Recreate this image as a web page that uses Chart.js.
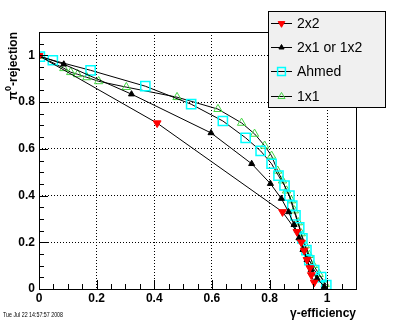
<!DOCTYPE html>
<html lang="en">
<head>
<meta charset="UTF-8">
<title>pi0 rejection vs gamma efficiency</title>
<script src="https://cdn.jsdelivr.net/npm/chart.js@4.4.0/dist/chart.umd.min.js"></script>
<style>
  body { margin: 0; background: #fff; }
  canvas { display: block; }
</style>
</head>
<body>
<canvas id="myChart" width="396" height="322"></canvas>
<script>
// data
const x2x2 = [0, 0.41, 0.845, 0.895, 0.91, 0.92, 0.93, 0.94, 0.945, 0.955];
const y2x2 = [0.998, 0.71, 0.33, 0.245, 0.2, 0.165, 0.125, 0.09, 0.06, 0.028];

const x2x1 = [0, 0.086, 0.321, 0.597, 0.738, 0.803, 0.841, 0.866, 0.885, 0.902, 0.916, 0.93, 0.944, 0.965, 0.99];
const y2x1 = [0.998, 0.962, 0.834, 0.668, 0.536, 0.451, 0.387, 0.33, 0.275, 0.218, 0.168, 0.125, 0.083, 0.045, 0.01];

const xAhmed = [0.003, 0.048, 0.179, 0.369, 0.528, 0.638, 0.717, 0.769, 0.807, 0.831, 0.852, 0.869, 0.879, 0.89, 0.903, 0.914, 0.928, 0.938, 0.955, 0.979, 0.997];
const yAhmed = [0.995, 0.979, 0.936, 0.868, 0.791, 0.719, 0.647, 0.591, 0.536, 0.485, 0.443, 0.4, 0.357, 0.315, 0.264, 0.217, 0.166, 0.123, 0.081, 0.051, 0.017];

const x1x1 = [0, 0.086, 0.11, 0.134, 0.166, 0.207, 0.303, 0.479, 0.621, 0.703, 0.748, 0.783, 0.807, 0.828, 0.845, 0.859, 0.876, 0.886, 0.9, 0.91, 0.924, 0.938, 0.952, 0.972, 0.993];
const y1x1 = [0.998, 0.945, 0.928, 0.919, 0.906, 0.889, 0.864, 0.821, 0.77, 0.711, 0.664, 0.613, 0.57, 0.506, 0.464, 0.421, 0.379, 0.336, 0.285, 0.238, 0.187, 0.145, 0.102, 0.064, 0.021];

const xTicks = [0, 0.2, 0.4, 0.6, 0.8, 1.0];
const yTicks = [0, 0.2, 0.4, 0.6, 0.8, 1.0];
const axisMax = 1.1;
const minorStep = 0.05;

const pts = (xs, ys) => xs.map((x, i) => ({ x: x, y: ys[i] }));
const FONT = '"Liberation Sans", Arial, Helvetica, sans-serif';

// ROOT-ish frame, inward ticks, titles, legend, date
const frameStuff = {
    id: 'frameStuff',
    afterDraw(chart) {
        const ctx = chart.ctx;
        const a = chart.chartArea;
        const xs = chart.scales.x, ys = chart.scales.y;
        ctx.save();
        ctx.strokeStyle = '#000';
        ctx.lineWidth = 1;
        ctx.strokeRect(a.left + 0.5, a.top + 0.5, a.right - a.left, a.bottom - a.top);

        ctx.beginPath();
        for (let i = 0; i * minorStep <= axisMax + 1e-9; i++) {
            const v = i * minorStep;
            const len = (i % 4 === 0) ? 9 : 5;
            const px = Math.round(xs.getPixelForValue(v)) + 0.5;
            ctx.moveTo(px, a.bottom);
            ctx.lineTo(px, a.bottom - len);
            const py = Math.round(ys.getPixelForValue(v)) + 0.5;
            ctx.moveTo(a.left, py);
            ctx.lineTo(a.left + len, py);
        }
        ctx.stroke();

        // axis titles
        ctx.fillStyle = '#000';
        ctx.font = 'bold 12px ' + FONT;
        ctx.textAlign = 'right';
        ctx.textBaseline = 'alphabetic';
        ctx.fillText('\u03b3-efficiency', a.right, 317);

        ctx.save();
        ctx.translate(17, a.top);
        ctx.rotate(-Math.PI / 2);
        ctx.textAlign = 'left';
        const rest = '-rejection';
        const wRest = ctx.measureText(rest).width;
        ctx.font = 'bold 9px ' + FONT;
        const wSup = ctx.measureText('0').width;
        ctx.font = 'bold 12px ' + FONT;
        const wPi = ctx.measureText('\u03c0').width;
        let sx = -(wRest + wSup + wPi);
        ctx.fillText('\u03c0', sx, 0);
        sx += wPi;
        ctx.font = 'bold 9px ' + FONT;
        ctx.fillText('0', sx, -6);
        sx += wSup;
        ctx.font = 'bold 12px ' + FONT;
        ctx.fillText(rest, sx, 0);
        ctx.restore();

        // date stamp
        ctx.save();
        ctx.font = '7px ' + FONT;
        ctx.textAlign = 'left';
        const stamp = 'Tue Jul 22 14:57:57 2008';
        const sw = ctx.measureText(stamp).width;
        ctx.translate(3, 317);
        ctx.scale(60 / sw, 1);
        ctx.fillText(stamp, 0, 0);
        ctx.restore();

        // legend
        const lx = 268, ly = 11, lw = 117, lh = 96;
        ctx.fillStyle = '#f0f0f0';
        ctx.fillRect(lx, ly, lw, lh);
        ctx.strokeStyle = '#000';
        ctx.lineWidth = 1;
        ctx.strokeRect(lx + 0.5, ly + 0.5, lw, lh);
        const rows = [23, 47, 71, 96];
        chart.data.datasets.forEach((ds, i) => {
            const ry = rows[i] + 0.5;
            ctx.beginPath();
            ctx.strokeStyle = '#000';
            ctx.lineWidth = 1;
            ctx.moveTo(271, ry);
            ctx.lineTo(292, ry);
            ctx.stroke();
            ctx.fillStyle = ds.pointBackgroundColor;
            ctx.strokeStyle = ds.pointBorderColor;
            ctx.lineWidth = ds.pointBorderWidth;
            Chart.helpers.drawPoint(ctx, {
                pointStyle: ds.pointStyle,
                rotation: ds.pointRotation || 0,
                radius: ds.pointRadius * 0.85,
                borderWidth: ds.pointBorderWidth
            }, 281.5, ry);
            ctx.fillStyle = '#000';
            ctx.font = '14px ' + FONT;
            ctx.textAlign = 'left';
            ctx.textBaseline = 'middle';
            ctx.fillText(ds.label, 297, rows[i] + 1);
        });
        ctx.restore();
    }
};

const fmt = v => String(+Number(v).toFixed(1));

const ctx = document.getElementById('myChart').getContext('2d');
const myChart = new Chart(ctx, {
    type: 'scatter',
    data: {
        datasets: [{
            label: '2x2',
            data: pts(x2x2, y2x2),
            showLine: true,
            borderColor: '#000',
            borderWidth: 1,
            pointStyle: 'triangle',
            pointRotation: 180,
            pointRadius: 4.5,
            pointBackgroundColor: '#ff0000',
            pointBorderColor: '#ff0000',
            pointBorderWidth: 1
        }, {
            label: '2x1 or 1x2',
            data: pts(x2x1, y2x1),
            showLine: true,
            borderColor: '#000',
            borderWidth: 1,
            pointStyle: 'triangle',
            pointRadius: 3.5,
            pointBackgroundColor: '#000',
            pointBorderColor: '#000',
            pointBorderWidth: 1
        }, {
            label: 'Ahmed',
            data: pts(xAhmed, yAhmed),
            showLine: true,
            borderColor: '#000',
            borderWidth: 1,
            pointStyle: 'rect',
            pointRadius: 6.5,
            pointBackgroundColor: 'rgba(0,0,0,0)',
            pointBorderColor: '#00ffff',
            pointBorderWidth: 1.5
        }, {
            label: '1x1',
            data: pts(x1x1, y1x1),
            showLine: true,
            borderColor: '#000',
            borderWidth: 1,
            pointStyle: 'triangle',
            pointRadius: 4.8,
            pointBackgroundColor: 'rgba(0,0,0,0)',
            pointBorderColor: '#44d444',
            pointBorderWidth: 1
        }]
    },
    options: {
        responsive: false,
        animation: false,
        layout: { padding: { left: 0, top: 32, right: 40, bottom: 0 } },
        plugins: { legend: { display: false }, tooltip: { enabled: false } },
        elements: { line: { tension: 0 } },
        scales: {
            x: {
                type: 'linear',
                min: 0,
                max: axisMax,
                afterBuildTicks: s => { s.ticks = xTicks.map(v => ({ value: v })); },
                afterFit: s => { s.height = 33; },
                ticks: {
                    color: '#000',
                    padding: 2,
                    maxRotation: 0,
                    font: { family: FONT, size: 12, weight: 'bold' },
                    callback: fmt
                },
                grid: { color: '#000', lineWidth: 1, drawTicks: false },
                border: { display: false, dash: [1, 2] }
            },
            y: {
                type: 'linear',
                min: 0,
                max: axisMax,
                afterBuildTicks: s => { s.ticks = yTicks.map(v => ({ value: v })); },
                afterFit: s => { s.width = 39; },
                ticks: {
                    color: '#000',
                    padding: 4,
                    font: { family: FONT, size: 12, weight: 'bold' },
                    callback: fmt
                },
                grid: { color: '#000', lineWidth: 1, drawTicks: false },
                border: { display: false, dash: [1, 2] }
            }
        }
    },
    plugins: [frameStuff]
});
</script>
</body>
</html>
